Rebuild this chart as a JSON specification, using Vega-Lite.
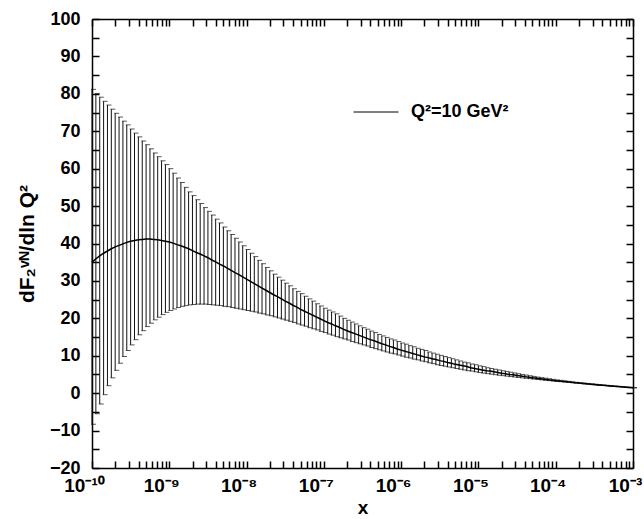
{
  "$schema": "https://vega.github.io/schema/vega-lite/v6.json",
  "width": 541,
  "height": 449,
  "autosize": {"type": "none"},
  "padding": {"left": 92, "top": 19, "right": 11, "bottom": 51},
  "background": "white",
  "config": {
    "view": {"stroke": null},
    "font": "Liberation Sans",
    "axis": {
      "domainColor": "black", "domainWidth": 1.5,
      "tickColor": "black", "tickWidth": 1.5,
      "labelFont": "Liberation Sans", "labelFontWeight": "bold", "labelFontSize": 18, "labelColor": "black",
      "titleFont": "Liberation Sans", "titleFontWeight": "bold", "titleFontSize": 19, "titleColor": "black",
      "grid": false
    }
  },
  "data": {"values": [
    {"x":1e-10,"c":35.0,"hi":81.2,"lo":-8.3},
    {"x":1.122e-10,"c":35.9,"hi":80.1,"lo":-5.5},
    {"x":1.259e-10,"c":36.7,"hi":79.1,"lo":-2.9},
    {"x":1.413e-10,"c":37.4,"hi":78.0,"lo":-0.4},
    {"x":1.585e-10,"c":38.0,"hi":77.0,"lo":2.0},
    {"x":1.778e-10,"c":38.6,"hi":75.9,"lo":4.1},
    {"x":1.995e-10,"c":39.1,"hi":74.8,"lo":6.1},
    {"x":2.239e-10,"c":39.5,"hi":73.8,"lo":8.0},
    {"x":2.512e-10,"c":39.9,"hi":72.7,"lo":9.8},
    {"x":2.818e-10,"c":40.3,"hi":71.7,"lo":11.4},
    {"x":3.162e-10,"c":40.6,"hi":70.6,"lo":12.9},
    {"x":3.548e-10,"c":40.8,"hi":69.5,"lo":14.3},
    {"x":3.981e-10,"c":41.0,"hi":68.5,"lo":15.6},
    {"x":4.467e-10,"c":41.1,"hi":67.4,"lo":16.7},
    {"x":5.012e-10,"c":41.2,"hi":66.4,"lo":17.8},
    {"x":5.623e-10,"c":41.2,"hi":65.3,"lo":18.7},
    {"x":6.310e-10,"c":41.1,"hi":64.2,"lo":19.6},
    {"x":7.079e-10,"c":41.0,"hi":63.2,"lo":20.3},
    {"x":7.943e-10,"c":40.8,"hi":62.1,"lo":21.0},
    {"x":8.913e-10,"c":40.6,"hi":61.1,"lo":21.6},
    {"x":1e-9,"c":40.4,"hi":60.0,"lo":22.1},
    {"x":1.122e-9,"c":40.1,"hi":58.8,"lo":22.5},
    {"x":1.259e-9,"c":39.7,"hi":57.5,"lo":22.9},
    {"x":1.413e-9,"c":39.4,"hi":56.3,"lo":23.2},
    {"x":1.585e-9,"c":39.0,"hi":55.0,"lo":23.4},
    {"x":1.778e-9,"c":38.6,"hi":53.8,"lo":23.6},
    {"x":1.995e-9,"c":38.1,"hi":52.8,"lo":23.7},
    {"x":2.239e-9,"c":37.6,"hi":51.7,"lo":23.8},
    {"x":2.512e-9,"c":37.2,"hi":50.7,"lo":23.8},
    {"x":2.818e-9,"c":36.7,"hi":49.6,"lo":23.8},
    {"x":3.162e-9,"c":36.2,"hi":48.6,"lo":23.7},
    {"x":3.548e-9,"c":35.6,"hi":47.6,"lo":23.6},
    {"x":3.981e-9,"c":35.1,"hi":46.5,"lo":23.5},
    {"x":4.467e-9,"c":34.5,"hi":45.5,"lo":23.4},
    {"x":5.012e-9,"c":34.0,"hi":44.4,"lo":23.2},
    {"x":5.623e-9,"c":33.4,"hi":43.4,"lo":23.1},
    {"x":6.310e-9,"c":32.8,"hi":42.4,"lo":22.9},
    {"x":7.079e-9,"c":32.2,"hi":41.4,"lo":22.7},
    {"x":7.943e-9,"c":31.7,"hi":40.4,"lo":22.5},
    {"x":8.913e-9,"c":31.1,"hi":39.4,"lo":22.3},
    {"x":1e-8,"c":30.5,"hi":38.4,"lo":22.1},
    {"x":1.122e-8,"c":29.9,"hi":37.4,"lo":21.9},
    {"x":1.259e-8,"c":29.3,"hi":36.5,"lo":21.7},
    {"x":1.413e-8,"c":28.7,"hi":35.5,"lo":21.4},
    {"x":1.585e-8,"c":28.1,"hi":34.6,"lo":21.2},
    {"x":1.778e-8,"c":27.5,"hi":33.6,"lo":20.9},
    {"x":1.995e-8,"c":26.9,"hi":32.7,"lo":20.7},
    {"x":2.239e-8,"c":26.3,"hi":31.8,"lo":20.4},
    {"x":2.512e-8,"c":25.8,"hi":31.0,"lo":20.1},
    {"x":2.818e-8,"c":25.2,"hi":30.2,"lo":19.8},
    {"x":3.162e-8,"c":24.6,"hi":29.4,"lo":19.5},
    {"x":3.548e-8,"c":24.1,"hi":28.7,"lo":19.2},
    {"x":3.981e-8,"c":23.5,"hi":27.9,"lo":18.9},
    {"x":4.467e-8,"c":23.0,"hi":27.2,"lo":18.5},
    {"x":5.012e-8,"c":22.4,"hi":26.6,"lo":18.2},
    {"x":5.623e-8,"c":21.9,"hi":25.9,"lo":17.9},
    {"x":6.310e-8,"c":21.4,"hi":25.2,"lo":17.5},
    {"x":7.079e-8,"c":20.9,"hi":24.6,"lo":17.2},
    {"x":7.943e-8,"c":20.4,"hi":23.9,"lo":16.9},
    {"x":8.913e-8,"c":19.9,"hi":23.3,"lo":16.5},
    {"x":1e-7,"c":19.4,"hi":22.7,"lo":16.2},
    {"x":1.122e-7,"c":18.9,"hi":22.2,"lo":15.8},
    {"x":1.259e-7,"c":18.5,"hi":21.7,"lo":15.5},
    {"x":1.413e-7,"c":18.0,"hi":21.2,"lo":15.1},
    {"x":1.585e-7,"c":17.6,"hi":20.6,"lo":14.8},
    {"x":1.778e-7,"c":17.1,"hi":20.0,"lo":14.5},
    {"x":1.995e-7,"c":16.7,"hi":19.5,"lo":14.2},
    {"x":2.239e-7,"c":16.3,"hi":19.0,"lo":13.8},
    {"x":2.512e-7,"c":15.9,"hi":18.5,"lo":13.5},
    {"x":2.818e-7,"c":15.5,"hi":18.0,"lo":13.2},
    {"x":3.162e-7,"c":15.1,"hi":17.5,"lo":12.9},
    {"x":3.548e-7,"c":14.7,"hi":17.1,"lo":12.6},
    {"x":3.981e-7,"c":14.3,"hi":16.6,"lo":12.2},
    {"x":4.467e-7,"c":14.0,"hi":16.2,"lo":11.9},
    {"x":5.012e-7,"c":13.6,"hi":15.7,"lo":11.6},
    {"x":5.623e-7,"c":13.2,"hi":15.3,"lo":11.3},
    {"x":6.310e-7,"c":12.9,"hi":14.9,"lo":11.0},
    {"x":7.079e-7,"c":12.5,"hi":14.5,"lo":10.7},
    {"x":7.943e-7,"c":12.2,"hi":14.2,"lo":10.5},
    {"x":8.913e-7,"c":11.8,"hi":13.8,"lo":10.2},
    {"x":1e-6,"c":11.5,"hi":13.4,"lo":9.9},
    {"x":1.122e-6,"c":11.2,"hi":13.1,"lo":9.6},
    {"x":1.259e-6,"c":10.9,"hi":12.7,"lo":9.4},
    {"x":1.413e-6,"c":10.6,"hi":12.4,"lo":9.1},
    {"x":1.585e-6,"c":10.3,"hi":12.0,"lo":8.9},
    {"x":1.778e-6,"c":10.0,"hi":11.7,"lo":8.6},
    {"x":1.995e-6,"c":9.7,"hi":11.4,"lo":8.4},
    {"x":2.239e-6,"c":9.5,"hi":11.0,"lo":8.1},
    {"x":2.512e-6,"c":9.2,"hi":10.7,"lo":7.9},
    {"x":2.818e-6,"c":9.0,"hi":10.4,"lo":7.6},
    {"x":3.162e-6,"c":8.7,"hi":10.1,"lo":7.4},
    {"x":3.548e-6,"c":8.5,"hi":9.8,"lo":7.2},
    {"x":3.981e-6,"c":8.2,"hi":9.5,"lo":7.0},
    {"x":4.467e-6,"c":8.0,"hi":9.2,"lo":6.8},
    {"x":5.012e-6,"c":7.7,"hi":8.9,"lo":6.6},
    {"x":5.623e-6,"c":7.5,"hi":8.6,"lo":6.4},
    {"x":6.310e-6,"c":7.3,"hi":8.3,"lo":6.2},
    {"x":7.079e-6,"c":7.1,"hi":8.1,"lo":6.0},
    {"x":7.943e-6,"c":6.8,"hi":7.8,"lo":5.9},
    {"x":8.913e-6,"c":6.6,"hi":7.6,"lo":5.7},
    {"x":1e-5,"c":6.4,"hi":7.3,"lo":5.5},
    {"x":1.122e-5,"c":6.2,"hi":7.1,"lo":5.36},
    {"x":1.259e-5,"c":6.0,"hi":6.8,"lo":5.22},
    {"x":1.413e-5,"c":5.9,"hi":6.6,"lo":5.08},
    {"x":1.585e-5,"c":5.7,"hi":6.4,"lo":4.94},
    {"x":1.778e-5,"c":5.5,"hi":6.2,"lo":4.8},
    {"x":1.995e-5,"c":5.3,"hi":6.0,"lo":4.68},
    {"x":2.239e-5,"c":5.2,"hi":5.8,"lo":4.56},
    {"x":2.512e-5,"c":5.0,"hi":5.6,"lo":4.44},
    {"x":2.818e-5,"c":4.9,"hi":5.4,"lo":4.32},
    {"x":3.162e-5,"c":4.7,"hi":5.2,"lo":4.2},
    {"x":3.548e-5,"c":4.56,"hi":5.0,"lo":4.09},
    {"x":3.981e-5,"c":4.42,"hi":4.84,"lo":3.98},
    {"x":4.467e-5,"c":4.28,"hi":4.66,"lo":3.87},
    {"x":5.012e-5,"c":4.14,"hi":4.48,"lo":3.76},
    {"x":5.623e-5,"c":4.0,"hi":4.3,"lo":3.65},
    {"x":6.310e-5,"c":3.87,"hi":4.15,"lo":3.55},
    {"x":7.079e-5,"c":3.74,"hi":4.0,"lo":3.45},
    {"x":7.943e-5,"c":3.61,"hi":3.85,"lo":3.35},
    {"x":8.913e-5,"c":3.48,"hi":3.7,"lo":3.25},
    {"x":1e-4,"c":3.35,"hi":3.55,"lo":3.15},
    {"x":1.122e-4,"c":3.24,"hi":3.42,"lo":3.06},
    {"x":1.259e-4,"c":3.13,"hi":3.29,"lo":2.97},
    {"x":1.413e-4,"c":3.02,"hi":3.16,"lo":2.88},
    {"x":1.585e-4,"c":2.91,"hi":3.03,"lo":2.79},
    {"x":1.778e-4,"c":2.8,"hi":2.9,"lo":2.7},
    {"x":1.995e-4,"c":2.7,"hi":2.8,"lo":2.6},
    {"x":2.239e-4,"c":2.6,"hi":2.7,"lo":2.5},
    {"x":2.512e-4,"c":2.5,"hi":2.6,"lo":2.4},
    {"x":2.818e-4,"c":2.4,"hi":2.5,"lo":2.3},
    {"x":3.162e-4,"c":2.3,"hi":2.4,"lo":2.2},
    {"x":3.548e-4,"c":2.21,"hi":2.3,"lo":2.12},
    {"x":3.981e-4,"c":2.12,"hi":2.2,"lo":2.04},
    {"x":4.467e-4,"c":2.03,"hi":2.1,"lo":1.96},
    {"x":5.012e-4,"c":1.94,"hi":2.0,"lo":1.88},
    {"x":5.623e-4,"c":1.85,"hi":1.9,"lo":1.8},
    {"x":6.310e-4,"c":1.77,"hi":1.82,"lo":1.72},
    {"x":7.079e-4,"c":1.69,"hi":1.74,"lo":1.64},
    {"x":7.943e-4,"c":1.61,"hi":1.66,"lo":1.56},
    {"x":8.913e-4,"c":1.53,"hi":1.58,"lo":1.48},
    {"x":1e-3,"c":1.45,"hi":1.5,"lo":1.4}
  ]},
  "layer": [
    {
      "mark": {"type": "rule", "color": "#111", "strokeWidth": 1},
      "encoding": {
        "x": {
          "field": "x", "type": "quantitative",
          "scale": {"type": "log", "domain": [1e-10, 1e-3], "nice": false},
          "axis": {
            "orient": "bottom",
            "title": "x",
            "values": [1e-10,2e-10,3e-10,4e-10,5e-10,6e-10,7e-10,8e-10,9e-10,1e-9,2e-9,3e-9,4e-9,5e-9,6e-9,7e-9,8e-9,9e-9,1e-8,2e-8,3e-8,4e-8,5e-8,6e-8,7e-8,8e-8,9e-8,1e-7,2e-7,3e-7,4e-7,5e-7,6e-7,7e-7,8e-7,9e-7,1e-6,2e-6,3e-6,4e-6,5e-6,6e-6,7e-6,8e-6,9e-6,1e-5,2e-5,3e-5,4e-5,5e-5,6e-5,7e-5,8e-5,9e-5,1e-4,2e-4,3e-4,4e-4,5e-4,6e-4,7e-4,8e-4,9e-4,1e-3],
            "labelExpr": "abs(log(datum.value)/LN10 - round(log(datum.value)/LN10)) < 0.001 ? ['10⁻¹⁰','10⁻⁹','10⁻⁸','10⁻⁷','10⁻⁶','10⁻⁵','10⁻⁴','10⁻³'][round(log(datum.value)/LN10)+10] : ''",
            "tickSize": -7,
            "encode": {"ticks": {"update": {"y2": {"signal": "abs(log(datum.value)/LN10 - round(log(datum.value)/LN10)) < 0.001 ? -7 : -4"}}}},
            "labelFontSize": 19,
            "labelPadding": 15,
            "labelOffset": -8,
            "labelFlush": false,
            "labelOverlap": false,
            "labelBound": false,
            "titlePadding": 3
          }
        },
        "y": {
          "field": "lo", "type": "quantitative",
          "scale": {"domain": [-20, 100], "nice": false, "zero": false},
          "axis": {
            "orient": "left",
            "title": "dF₂ᵛᴺ/dln Q²",
            "titleFontSize": 21,
            "values": [-20,-15,-10,-5,0,5,10,15,20,25,30,35,40,45,50,55,60,65,70,75,80,85,90,95,100],
            "labelExpr": "datum.value % 10 == 0 ? datum.label : ''",
            "tickSize": -7,
            "encode": {"ticks": {"update": {"x2": {"signal": "datum.value % 10 == 0 ? 7 : 4"}}}},
            "labelPadding": 19,
            "labelOverlap": false,
            "labelFlush": false,
            "titlePadding": 12
          }
        },
        "y2": {"field": "hi"}
      }
    },
    {
      "mark": {"type": "tick", "orient": "horizontal", "size": 5, "thickness": 1, "color": "#111", "xOffset": 1.5},
      "encoding": {
        "x": {
          "field": "x", "type": "quantitative",
          "axis": {
            "orient": "top",
            "title": null,
            "labels": false,
            "values": [1e-10,2e-10,3e-10,4e-10,5e-10,6e-10,7e-10,8e-10,9e-10,1e-9,2e-9,3e-9,4e-9,5e-9,6e-9,7e-9,8e-9,9e-9,1e-8,2e-8,3e-8,4e-8,5e-8,6e-8,7e-8,8e-8,9e-8,1e-7,2e-7,3e-7,4e-7,5e-7,6e-7,7e-7,8e-7,9e-7,1e-6,2e-6,3e-6,4e-6,5e-6,6e-6,7e-6,8e-6,9e-6,1e-5,2e-5,3e-5,4e-5,5e-5,6e-5,7e-5,8e-5,9e-5,1e-4,2e-4,3e-4,4e-4,5e-4,6e-4,7e-4,8e-4,9e-4,1e-3],
            "tickSize": -7,
            "encode": {"ticks": {"update": {"y2": {"signal": "abs(log(datum.value)/LN10 - round(log(datum.value)/LN10)) < 0.001 ? 7 : 4"}}}}
          }
        },
        "y": {
          "field": "hi", "type": "quantitative",
          "axis": {
            "orient": "right",
            "title": null,
            "labels": false,
            "values": [-20,-15,-10,-5,0,5,10,15,20,25,30,35,40,45,50,55,60,65,70,75,80,85,90,95,100],
            "tickSize": -7,
            "encode": {"ticks": {"update": {"x2": {"signal": "datum.value % 10 == 0 ? -7 : -4"}}}}
          }
        }
      }
    },
    {
      "mark": {"type": "tick", "orient": "horizontal", "size": 5, "thickness": 1, "color": "#111", "xOffset": 1.5},
      "encoding": {
        "x": {"field": "x", "type": "quantitative", "axis": null},
        "y": {"field": "lo", "type": "quantitative", "axis": null}
      }
    },
    {
      "mark": {"type": "line", "strokeWidth": 1.5},
      "encoding": {
        "x": {"field": "x", "type": "quantitative", "axis": null},
        "y": {"field": "c", "type": "quantitative", "axis": null},
        "color": {
          "datum": "Q²=10 GeV²",
          "scale": {"range": ["black"]},
          "legend": {
            "orient": "none", "legendX": 261, "legendY": 70,
            "title": null, "padding": 0,
            "symbolType": "stroke", "symbolSize": 2025, "symbolStrokeWidth": 1,
            "labelFont": "Liberation Sans", "labelFontSize": 18, "labelFontWeight": "bold",
            "labelColor": "black", "labelOffset": 12
          }
        }
      }
    }
  ],
  "resolve": {"axis": {"x": "independent", "y": "independent"}}
}
